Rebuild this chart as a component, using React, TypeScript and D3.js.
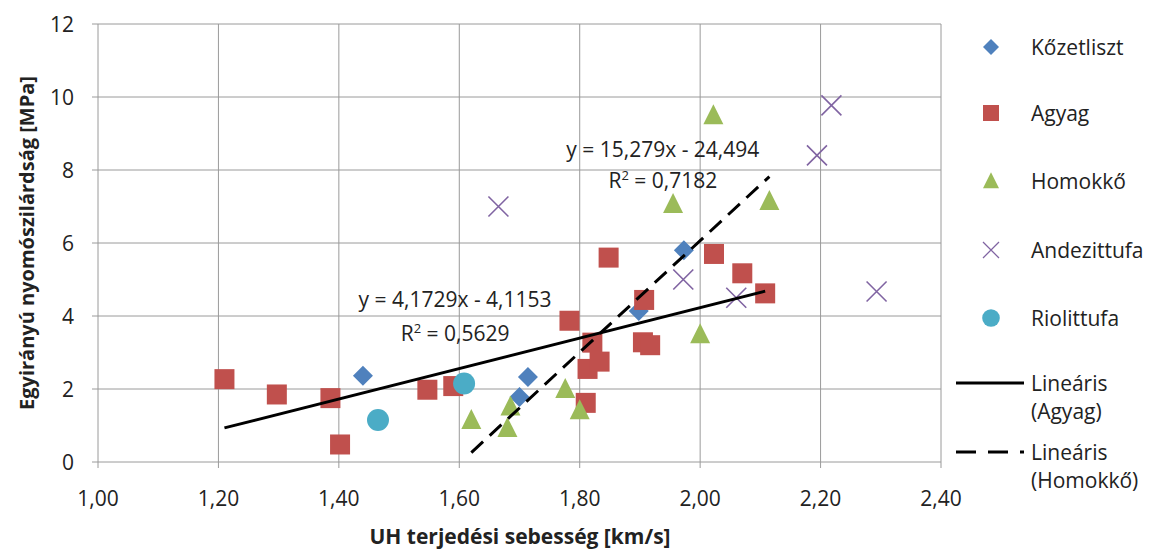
import React, { useEffect, useRef } from "react";
import * as d3 from "d3";

// series data: [UH velocity km/s, compressive strength MPa]
const kozetliszt: [number, number][] = [
  [1.44, 2.36], [1.70, 1.78], [1.714, 2.33], [1.898, 4.14], [1.973, 5.8]
];
const agyag: [number, number][] = [
  [1.21, 2.27], [1.297, 1.85], [1.386, 1.75], [1.402, 0.48], [1.547, 1.98],
  [1.59, 2.08], [1.783, 3.87], [1.81, 1.62], [1.813, 2.55], [1.821, 3.27],
  [1.833, 2.75], [1.848, 5.6], [1.905, 3.28], [1.907, 4.44], [1.917, 3.2],
  [2.023, 5.7], [2.07, 5.17], [2.108, 4.62]
];
const homokko: [number, number][] = [
  [1.62, 1.15], [1.68, 0.93], [1.685, 1.52], [1.776, 2.0], [1.80, 1.42],
  [1.955, 7.07], [2.0, 3.5], [2.022, 9.5], [2.115, 7.15]
];
const andezittufa: [number, number][] = [
  [1.665, 7.0], [1.972, 5.0], [2.06, 4.5], [2.194, 8.4], [2.218, 9.77], [2.293, 4.67]
];
const riolittufa: [number, number][] = [
  [1.465, 1.15], [1.608, 2.15]
];

const xTicks = [1.0, 1.2, 1.4, 1.6, 1.8, 2.0, 2.2, 2.4];
const yTicks = [0, 2, 4, 6, 8, 10, 12];

// trendlines (slope, intercept) as printed on the chart
const trendAgyag = { a: 4.1729, b: -4.1153, eq: "y = 4,1729x - 4,1153", r2: "0,5629" };
const trendHomokko = { a: 15.279, b: -24.494, eq: "y = 15,279x - 24,494", r2: "0,7182" };

const FONT = "'Open Sans', Lato, sans-serif";
const FS = "21px";

const series = [
  { name: "Kőzetliszt", data: kozetliszt, color: "#4F81BD", shape: "diamond" },
  { name: "Agyag", data: agyag, color: "#C0504D", shape: "square" },
  { name: "Homokkő", data: homokko, color: "#9BBB59", shape: "triangle" },
  { name: "Andezittufa", data: andezittufa, color: "#8064A2", shape: "cross" },
  { name: "Riolittufa", data: riolittufa, color: "#4BACC6", shape: "circle" }
];

function App() {
  const ref = useRef<SVGSVGElement>(null);

  useEffect(() => {
    const svg = d3.select(ref.current);
    svg.selectAll("*").remove();

    const margin = { top: 24, left: 98, right: 941, bottom: 462 };
    const x = d3.scaleLinear().domain([1.0, 2.4]).range([margin.left, margin.right]);
    const y = d3.scaleLinear().domain([0, 12]).range([margin.bottom, margin.top]);

    const fmt = (v: number) => v.toFixed(2).replace(".", ",");

    // grid
    const grid = svg.append("g");
    grid.selectAll("line.h").data(yTicks).join("line")
      .attr("x1", x(1.0) - 6).attr("x2", x(2.4))
      .attr("y1", d => y(d)).attr("y2", d => y(d))
      .attr("stroke", "#9a9a9a").attr("stroke-width", 1);
    grid.selectAll("line.v").data(xTicks).join("line")
      .attr("x1", d => x(d)).attr("x2", d => x(d))
      .attr("y1", y(12)).attr("y2", y(0) + 6)
      .attr("stroke", "#9a9a9a").attr("stroke-width", 1);

    // tick labels
    svg.append("g").selectAll("text").data(xTicks).join("text")
      .attr("x", d => x(d)).attr("y", y(0) + 44)
      .attr("text-anchor", "middle")
      .style("font-family", FONT).style("font-size", FS).attr("fill", "#222")
      .text(d => fmt(d));
    svg.append("g").selectAll("text").data(yTicks).join("text")
      .attr("x", x(1.0) - 24).attr("y", d => y(d) + 8)
      .attr("text-anchor", "end")
      .style("font-family", FONT).style("font-size", FS).attr("fill", "#222")
      .text(d => String(d));

    // axis titles
    svg.append("text")
      .attr("x", 520).attr("y", 544)
      .attr("text-anchor", "middle")
      .style("font-family", FONT).style("font-size", "21px").style("font-weight", "bold")
      .attr("fill", "#222")
      .text("UH terjedési sebesség [km/s]");
    svg.append("text")
      .attr("transform", `translate(34,${(y(0) + y(12)) / 2}) rotate(-90)`)
      .attr("text-anchor", "middle")
      .style("font-family", FONT).style("font-size", "20px").style("font-weight", "bold")
      .attr("fill", "#222")
      .text("Egyirányú nyomószilárdság  [MPa]");

    const drawMarker = (g: any, shape: string, color: string) => {
      if (shape === "cross") {
        g.append("path").attr("d", "M-10,-10L10,10M-10,10L10,-10")
          .attr("stroke", color).attr("stroke-width", 1.6).attr("fill", "none");
      } else if (shape === "square") {
        g.append("rect").attr("x", -10).attr("y", -10).attr("width", 20).attr("height", 20)
          .attr("fill", color);
      } else if (shape === "diamond") {
        g.append("path").attr("d", "M0,-10L10,0L0,10L-10,0Z").attr("fill", color);
      } else if (shape === "triangle") {
        g.append("path").attr("d", "M0,-11L10,9L-10,9Z").attr("fill", color);
      } else {
        g.append("circle").attr("r", 11).attr("fill", color);
      }
    };

    // points
    series.forEach(s => {
      s.data.forEach(d => {
        const g = svg.append("g").attr("transform", `translate(${x(d[0])},${y(d[1])})`);
        drawMarker(g, s.shape, s.color);
      });
    });

    // trendlines
    const trend = (data: [number, number][], t: { a: number; b: number }, dash: string | null) => {
      const [x0, x1] = d3.extent(data, d => d[0]) as [number, number];
      const line = d3.line<number>().x(v => x(v)).y(v => y(t.a * v + t.b));
      svg.append("path").datum([x0, x1]).attr("d", line)
        .attr("stroke", "#000").attr("stroke-width", 3).attr("fill", "none")
        .attr("stroke-dasharray", dash);
    };
    trend(agyag, trendAgyag, null);
    trend(homokko, trendHomokko, "16,9");

    // equation labels
    const eqLabel = (cx: number, cy: number, t: { eq: string; r2: string }, gap: number) => {
      const g = svg.append("g").style("font-family", FONT).style("font-size", FS).attr("fill", "#222");
      g.append("text").attr("x", x(cx)).attr("y", y(cy)).attr("text-anchor", "middle").text(t.eq);
      const r = g.append("text").attr("x", x(cx)).attr("y", y(cy) + gap).attr("text-anchor", "middle");
      r.append("tspan").text("R");
      r.append("tspan").attr("dy", -8).style("font-size", "13px").text("2");
      r.append("tspan").attr("dy", 8).text(" = " + t.r2);
    };
    eqLabel(1.593, 4.25, trendAgyag, 34);
    eqLabel(1.938, 8.36, trendHomokko, 31);

    // legend
    const lg = svg.append("g");
    const rows = [47, 113, 181, 250, 318];
    series.forEach((s, i) => {
      const g = lg.append("g").attr("transform", `translate(991,${rows[i]})`);
      const m = g.append("g").attr("transform", "scale(0.8)");
      drawMarker(m, s.shape, s.color);
      g.append("text").attr("x", 40).attr("y", 8)
        .style("font-family", FONT).style("font-size", FS).attr("fill", "#222")
        .text(s.name);
    });
    const lineRows = [
      { y: 383, dash: null, l1: "Lineáris", l2: "(Agyag)" },
      { y: 452, dash: "20,12", l1: "Lineáris", l2: "(Homokkő)" }
    ];
    lineRows.forEach(r => {
      lg.append("line").attr("x1", 956).attr("x2", 1024).attr("y1", r.y).attr("y2", r.y)
        .attr("stroke", "#000").attr("stroke-width", 3).attr("stroke-dasharray", r.dash);
      lg.append("text").attr("x", 1031).attr("y", r.y + 8)
        .style("font-family", FONT).style("font-size", FS).attr("fill", "#222").text(r.l1);
      lg.append("text").attr("x", 1031).attr("y", r.y + 36)
        .style("font-family", FONT).style("font-size", FS).attr("fill", "#222").text(r.l2);
    });
  }, []);

  return (
    <svg
      ref={ref}
      width={1158}
      height={550}
      style={{ position: "absolute", left: 0, top: 0, background: "#fff" }}
    />
  );
}

export default App;
